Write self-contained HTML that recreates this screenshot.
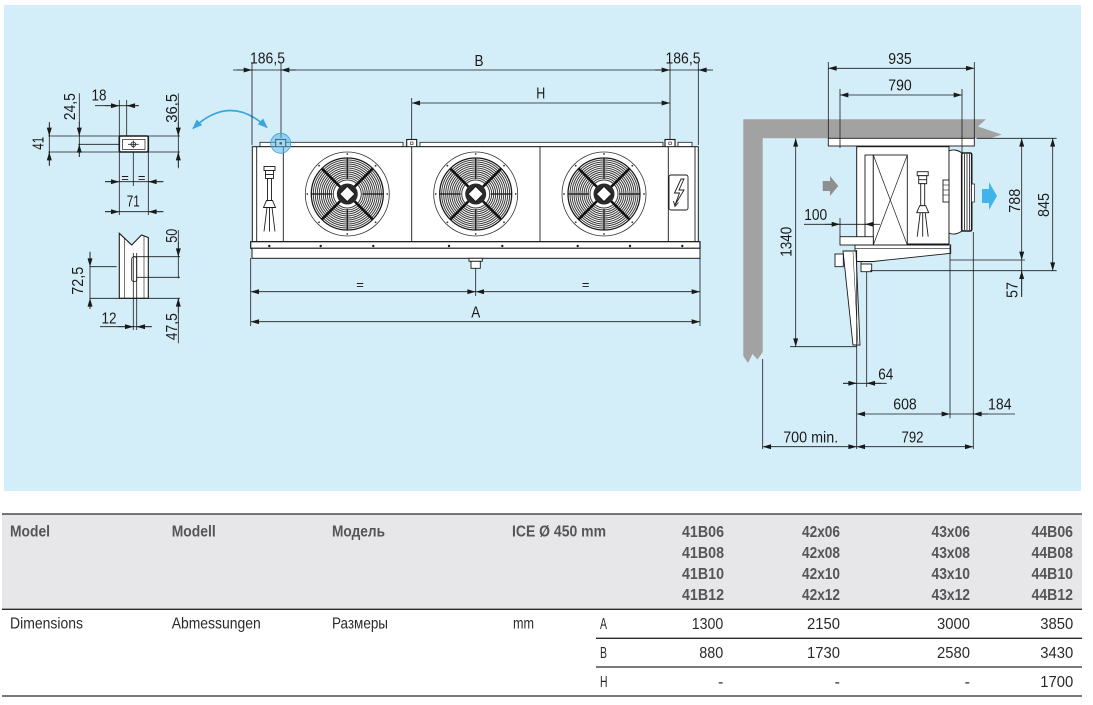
<!DOCTYPE html>
<html><head><meta charset="utf-8">
<style>
html,body{margin:0;padding:0;background:#fff;}
svg{display:block;}
text{font-family:"Liberation Sans","Noto Sans CJK SC",sans-serif;}
</style></head><body>
<svg width="1093" height="705" viewBox="0 0 1093 705" xmlns="http://www.w3.org/2000/svg" xmlns:xlink="http://www.w3.org/1999/xlink">
<defs>
<marker id="m" viewBox="0 0 10 6" refX="10" refY="3" markerWidth="9" markerHeight="5" markerUnits="userSpaceOnUse" orient="auto-start-reverse"><path d="M0,0 L10,3 L0,6 z" fill="#1a1a1a"/></marker>
<marker id="mb" viewBox="0 0 10 8" refX="9" refY="4" markerWidth="10" markerHeight="8" markerUnits="userSpaceOnUse" orient="auto-start-reverse"><path d="M0,0 L10,4 L0,8 z" fill="#3aa6dd"/></marker>
<g id="fan">
<circle cx="0" cy="0" r="42" fill="#fff" stroke="#333" stroke-width="0.8"/>
<circle cx="0" cy="-40" r="0.9" fill="#333"/><circle cx="0" cy="40" r="0.9" fill="#333"/>
<circle cx="-40" cy="0" r="0.9" fill="#333"/><circle cx="40" cy="0" r="0.9" fill="#333"/>
<circle cx="28.3" cy="28.3" r="0.9" fill="#333"/><circle cx="-28.3" cy="28.3" r="0.9" fill="#333"/>
<circle cx="28.3" cy="-28.3" r="0.9" fill="#333"/><circle cx="-28.3" cy="-28.3" r="0.9" fill="#333"/>
<circle cx="0" cy="0" r="36" fill="#fff" stroke="#1a1a1a" stroke-width="1.3"/>
<g fill="none" stroke="#3a3a3a" stroke-width="1">
<circle r="34"/><circle r="32"/><circle r="30"/><circle r="28"/><circle r="26"/><circle r="24"/><circle r="22"/><circle r="20"/><circle r="18"/><circle r="16"/><circle r="14"/>
</g>
<g stroke="#111" stroke-width="1.2">
<line x1="0" y1="-36" x2="0" y2="-15"/><line x1="0" y1="36" x2="0" y2="15"/>
<line x1="-36" y1="0" x2="-15" y2="0"/><line x1="36" y1="0" x2="15" y2="0"/>
</g>
<g stroke="#111" stroke-width="2.6">
<line x1="7" y1="7" x2="25.5" y2="25.5"/><line x1="-7" y1="7" x2="-25.5" y2="25.5"/>
<line x1="7" y1="-7" x2="25.5" y2="-25.5"/><line x1="-7" y1="-7" x2="-25.5" y2="-25.5"/>
</g>
<circle r="10.5" fill="#2a2a2a"/>
<path d="M0,-7.5 L7.5,0 L0,7.5 L-7.5,0 z" fill="#fff" stroke="#111" stroke-width="0.8"/>
</g>
<g id="valve" stroke="#1a1a1a" stroke-width="0.9" fill="#fff">
<rect x="-5.5" y="0" width="11" height="4"/>
<rect x="-4" y="4" width="8" height="8"/>
<line x1="-4" y1="8" x2="4" y2="8"/>
<rect x="-2" y="12" width="4" height="22"/>
<polygon points="-3,34 3,34 6,41 -6,41"/>
<line x1="-2.5" y1="41" x2="-5.5" y2="65"/>
<line x1="0" y1="41" x2="0" y2="65"/>
<line x1="2.5" y1="41" x2="5.5" y2="65"/>
</g>
</defs>

<rect x="4" y="5" width="1077" height="486" fill="#d4eef9"/>

<!-- ============ LEFT DETAIL ============ -->
<g stroke="#1a1a1a" stroke-width="0.8" fill="none">
<line x1="48.3" y1="136" x2="180" y2="136"/>
<line x1="48.3" y1="152" x2="180" y2="152"/>
<line x1="78.3" y1="144.3" x2="119.3" y2="144.3"/>
<line x1="119.3" y1="100" x2="119.3" y2="136"/>
<line x1="126.7" y1="100" x2="126.7" y2="136"/>
<line x1="119.3" y1="152" x2="119.3" y2="215"/>
<line x1="148.3" y1="152" x2="148.3" y2="215"/>
<line x1="133.3" y1="146" x2="133.3" y2="186"/>
<line x1="49.3" y1="123.3" x2="49.3" y2="165"/>
<line x1="49.3" y1="122" x2="49.3" y2="136" marker-end="url(#m)"/>
<line x1="49.3" y1="166" x2="49.3" y2="152" marker-end="url(#m)"/>
<line x1="79.3" y1="93.3" x2="79.3" y2="156.7"/>
<line x1="79.3" y1="122" x2="79.3" y2="136" marker-end="url(#m)"/>
<line x1="79.3" y1="157" x2="79.3" y2="144.3" marker-end="url(#m)"/>
<line x1="95" y1="105.7" x2="138.3" y2="105.7"/>
<line x1="105" y1="105.7" x2="119.3" y2="105.7" marker-end="url(#m)"/>
<line x1="139" y1="105.7" x2="126.7" y2="105.7" marker-end="url(#m)"/>
<line x1="178.3" y1="93.3" x2="178.3" y2="168.3"/>
<line x1="178.3" y1="122" x2="178.3" y2="136" marker-end="url(#m)"/>
<line x1="178.3" y1="167" x2="178.3" y2="152" marker-end="url(#m)"/>
<line x1="105" y1="181.7" x2="163.3" y2="181.7"/>
<line x1="105" y1="181.7" x2="119.3" y2="181.7" marker-end="url(#m)"/>
<line x1="163.3" y1="181.7" x2="148.3" y2="181.7" marker-end="url(#m)"/>
<line x1="105" y1="211.7" x2="163.3" y2="211.7"/>
<line x1="105" y1="211.7" x2="119.3" y2="211.7" marker-end="url(#m)"/>
<line x1="163.3" y1="211.7" x2="148.3" y2="211.7" marker-end="url(#m)"/>
</g>
<rect x="119.3" y="136" width="29" height="16" rx="1.5" fill="#fff" stroke="#1a1a1a" stroke-width="1.6"/>
<rect x="122.5" y="139.5" width="22.5" height="10" fill="#fff" stroke="#1a1a1a" stroke-width="0.7"/>
<circle cx="133.3" cy="144.3" r="2.3" fill="none" stroke="#1a1a1a" stroke-width="0.8"/>
<line x1="128" y1="144.3" x2="138.6" y2="144.3" stroke="#1a1a1a" stroke-width="0.8"/>
<line x1="133.3" y1="140.5" x2="133.3" y2="148.2" stroke="#1a1a1a" stroke-width="0.8"/>

<polygon points="119.3,233.3 131.7,245 141.5,235 148.3,237.5 148.3,298.3 119.3,298.3" fill="#fff" stroke="#1a1a1a" stroke-width="1.1"/>
<g stroke="#1a1a1a" stroke-width="0.6">
<line x1="124.3" y1="238" x2="124.3" y2="298.3"/>
<line x1="144" y1="236.5" x2="144" y2="298.3"/>
</g>
<rect x="131.7" y="256.7" width="5" height="25" rx="2.5" fill="#fff" stroke="#1a1a1a" stroke-width="0.9"/>
<g stroke="#1a1a1a" stroke-width="0.8" fill="none">
<line x1="133.3" y1="253" x2="133.3" y2="330"/>
<line x1="136.7" y1="253" x2="136.7" y2="330"/>
<line x1="133.3" y1="256.7" x2="180" y2="256.7"/>
<line x1="136.7" y1="277.3" x2="180" y2="277.3"/>
<line x1="90" y1="298.3" x2="180" y2="298.3"/>
<line x1="90" y1="266.7" x2="116.7" y2="266.7"/>
<line x1="90" y1="251.7" x2="90" y2="308.3"/>
<line x1="90" y1="252" x2="90" y2="266.7" marker-end="url(#m)"/>
<line x1="90" y1="309" x2="90" y2="298.3" marker-end="url(#m)"/>
<line x1="178.3" y1="230" x2="178.3" y2="278.3"/>
<line x1="178.3" y1="242" x2="178.3" y2="256.7" marker-end="url(#m)"/>
<line x1="178.3" y1="298.3" x2="178.3" y2="343.3"/>
<line x1="178.3" y1="313" x2="178.3" y2="298.3" marker-end="url(#m)"/>
<line x1="100" y1="326.7" x2="151.7" y2="326.7"/>
<line x1="118" y1="326.7" x2="133.3" y2="326.7" marker-end="url(#m)"/>
<line x1="151.7" y1="326.7" x2="136.7" y2="326.7" marker-end="url(#m)"/>
</g>
<g fill="#1a1a1a" font-size="16">
<text transform="translate(43.3,143.3) rotate(-90)" text-anchor="middle" textLength="13" lengthAdjust="spacingAndGlyphs">41</text>
<text transform="translate(75,106.7) rotate(-90)" text-anchor="middle" textLength="27" lengthAdjust="spacingAndGlyphs">24,5</text>
<text x="99" y="100.7" text-anchor="middle" textLength="15" lengthAdjust="spacingAndGlyphs">18</text>
<text transform="translate(177,108.3) rotate(-90)" text-anchor="middle" textLength="29" lengthAdjust="spacingAndGlyphs">36,5</text>
<text x="125" y="182" text-anchor="middle" font-size="13">=</text>
<text x="141.7" y="182" text-anchor="middle" font-size="13">=</text>
<text x="133.3" y="206.7" text-anchor="middle" textLength="13" lengthAdjust="spacingAndGlyphs">71</text>
<text transform="translate(177,235.7) rotate(-90)" text-anchor="middle" textLength="14" lengthAdjust="spacingAndGlyphs">50</text>
<text transform="translate(83,280.8) rotate(-90)" text-anchor="middle" textLength="28" lengthAdjust="spacingAndGlyphs">72,5</text>
<text transform="translate(177,326.7) rotate(-90)" text-anchor="middle" textLength="27" lengthAdjust="spacingAndGlyphs">47,5</text>
<text x="109" y="323.3" text-anchor="middle" textLength="15" lengthAdjust="spacingAndGlyphs">12</text>
</g>

<path d="M193,128.5 Q230,93 267,127.5" fill="none" stroke="#3aa6dd" stroke-width="1.6" marker-start="url(#mb)" marker-end="url(#mb)"/>

<!-- ============ MAIN UNIT ============ -->
<g stroke="#1a1a1a" stroke-width="0.8" fill="none">
<line x1="252" y1="63" x2="252" y2="145"/>
<line x1="281" y1="63" x2="281" y2="138"/>
<line x1="670" y1="63" x2="670" y2="140"/>
<line x1="698.3" y1="63" x2="698.3" y2="145"/>
<line x1="411.7" y1="98" x2="411.7" y2="140"/>
<line x1="250.7" y1="258" x2="250.7" y2="326"/>
<line x1="700" y1="258" x2="700" y2="326"/>
<line x1="475.7" y1="268" x2="475.7" y2="296"/>
<line x1="233" y1="70" x2="710" y2="70"/>
<line x1="237" y1="70" x2="252" y2="70" marker-end="url(#m)"/>
<line x1="296" y1="70" x2="281" y2="70" marker-end="url(#m)"/>
<line x1="655" y1="70" x2="670" y2="70" marker-end="url(#m)"/>
<line x1="713" y1="70" x2="698.3" y2="70" marker-end="url(#m)"/>
<line x1="411.7" y1="103" x2="670" y2="103" marker-start="url(#m)" marker-end="url(#m)"/>
<line x1="250.7" y1="291.7" x2="475.7" y2="291.7" marker-start="url(#m)" marker-end="url(#m)"/>
<line x1="475.7" y1="291.7" x2="700" y2="291.7" marker-start="url(#m)" marker-end="url(#m)"/>
<line x1="250.7" y1="321.7" x2="700" y2="321.7" marker-start="url(#m)" marker-end="url(#m)"/>
</g>
<g fill="#fff" stroke="#1a1a1a" stroke-width="0.8">
<rect x="260" y="142.3" width="143" height="4.4"/>
<rect x="420" y="142.3" width="243" height="4.4"/>
<rect x="678" y="142.3" width="14" height="4.4"/>
<rect x="275.7" y="139.5" width="10" height="7.5" stroke-width="1.1"/>
<rect x="406.7" y="139.5" width="10" height="7.5" stroke-width="1.1"/>
<rect x="665" y="139.5" width="10" height="7.5" stroke-width="1.1"/>
</g>
<rect x="279.5" y="142" width="2.5" height="2.5" fill="#1a1a1a"/>
<rect x="410.5" y="142" width="2.5" height="2.5" fill="none" stroke="#1a1a1a" stroke-width="0.6"/>
<rect x="668.8" y="142" width="2.5" height="2.5" fill="none" stroke="#1a1a1a" stroke-width="0.6"/>
<rect x="252.3" y="146.7" width="446" height="95" fill="#fff" stroke="#1a1a1a" stroke-width="1"/>
<g stroke="#1a1a1a" stroke-width="0.9">
<line x1="256.7" y1="146.7" x2="256.7" y2="241.7"/>
<line x1="283.3" y1="146.7" x2="283.3" y2="241.7"/>
<line x1="411.7" y1="146.7" x2="411.7" y2="241.7"/>
<line x1="540" y1="146.7" x2="540" y2="241.7"/>
<line x1="668.3" y1="146.7" x2="668.3" y2="241.7"/>
<line x1="695" y1="146.7" x2="695" y2="241.7"/>
</g>
<use xlink:href="#fan" href="#fan" x="347.3" y="194"/>
<use xlink:href="#fan" href="#fan" x="475.7" y="194"/>
<use xlink:href="#fan" href="#fan" x="604" y="194"/>
<use xlink:href="#valve" href="#valve" x="269.5" y="166.5"/>
<rect x="669" y="175" width="19" height="35" rx="2" fill="#fff" stroke="#1a1a1a" stroke-width="0.9"/>
<path d="M681,179 L674.5,193 L679.5,193 L675,205 L684,190 L679,190 L684,179 z" fill="none" stroke="#1a1a1a" stroke-width="0.9"/>
<path d="M673.5,201 L675,206.5 L678.5,202.5" fill="none" stroke="#1a1a1a" stroke-width="0.9"/>
<circle cx="280.7" cy="143.3" r="10" fill="#58b6e6" fill-opacity="0.55" stroke="#3aa0d8" stroke-width="0.8"/>
<rect x="250.7" y="241.7" width="449.3" height="6.6" fill="#fff" stroke="#1a1a1a" stroke-width="1.2"/>
<rect x="252" y="248.3" width="448" height="10" fill="#fff" stroke="#1a1a1a" stroke-width="1"/>
<g fill="#1a1a1a">
<circle cx="269.3" cy="246" r="1.2"/><circle cx="320.7" cy="246" r="1.2"/><circle cx="373.3" cy="246" r="1.2"/>
<circle cx="449" cy="246" r="1.2"/><circle cx="502.3" cy="246" r="1.2"/><circle cx="577.7" cy="246" r="1.2"/>
<circle cx="630" cy="246" r="1.2"/><circle cx="682.3" cy="246" r="1.2"/>
</g>
<rect x="469" y="258.3" width="13.3" height="3" fill="#fff" stroke="#1a1a1a" stroke-width="0.9"/>
<rect x="471" y="261.3" width="9.3" height="7" fill="#fff" stroke="#1a1a1a" stroke-width="0.9"/>
<g fill="#1a1a1a" font-size="16">
<text x="267.5" y="63.3" text-anchor="middle" textLength="35" lengthAdjust="spacingAndGlyphs">186,5</text>
<text x="479" y="66" text-anchor="middle" textLength="9" lengthAdjust="spacingAndGlyphs">B</text>
<text x="683" y="63.3" text-anchor="middle" textLength="35" lengthAdjust="spacingAndGlyphs">186,5</text>
<text x="540.7" y="98.3" text-anchor="middle" textLength="9" lengthAdjust="spacingAndGlyphs">H</text>
<text x="360" y="289" text-anchor="middle" font-size="13">=</text>
<text x="585.7" y="289" text-anchor="middle" font-size="13">=</text>
<text x="475.7" y="317.7" text-anchor="middle" textLength="9" lengthAdjust="spacingAndGlyphs">A</text>
</g>

<!-- ============ SIDE VIEW ============ -->
<polygon points="743.3,119.3 986,119.3 978,126.5 1001.7,134.5 991,138.3 762.7,138.3 762.7,352 757.5,359.5 752.5,354 748,363 743.3,356" fill="#a2a2a2"/>
<rect x="828.3" y="138.3" width="146" height="7.7" fill="#fff" stroke="#1a1a1a" stroke-width="0.9"/>
<g stroke="#1a1a1a" stroke-width="0.8" fill="none">
<line x1="828.3" y1="62" x2="828.3" y2="138.3"/>
<line x1="974.3" y1="62" x2="974.3" y2="138.3"/>
<line x1="840" y1="89" x2="840" y2="148"/>
<line x1="962" y1="89" x2="962" y2="155"/>
<line x1="828.3" y1="68.3" x2="974.3" y2="68.3" marker-start="url(#m)" marker-end="url(#m)"/>
<line x1="840" y1="95" x2="962" y2="95" marker-start="url(#m)" marker-end="url(#m)"/>
</g>
<rect x="856.7" y="146.7" width="92.3" height="97.3" fill="#fff" stroke="#1a1a1a" stroke-width="1"/>
<rect x="865" y="155" width="8.3" height="82" fill="#fff" stroke="#1a1a1a" stroke-width="0.9"/>
<rect x="873.3" y="155" width="34" height="90" fill="#fff" stroke="#1a1a1a" stroke-width="0.9"/>
<line x1="873.3" y1="155" x2="907.3" y2="245" stroke="#1a1a1a" stroke-width="0.7"/>
<line x1="907.3" y1="155" x2="873.3" y2="245" stroke="#1a1a1a" stroke-width="0.7"/>
<rect x="840" y="236.7" width="33.3" height="8.3" fill="#fff" stroke="#1a1a1a" stroke-width="0.9"/>
<use xlink:href="#valve" href="#valve" x="922.7" y="171.7"/>
<path d="M949,151 C953,149 958,150 962,153 L962,231 C958,234 953,235 949,233 z" fill="#fff" stroke="#1a1a1a" stroke-width="0.9"/>
<rect x="943" y="180" width="6" height="22" fill="#fff" stroke="#1a1a1a" stroke-width="0.9"/>
<g stroke="#1a1a1a" stroke-width="0.6"><line x1="943" y1="185" x2="949" y2="185"/><line x1="943" y1="190" x2="949" y2="190"/><line x1="943" y1="195" x2="949" y2="195"/></g>
<rect x="961.7" y="153" width="10" height="78" rx="1.5" fill="#fff" stroke="#1a1a1a" stroke-width="1.6"/>
<g stroke="#1a1a1a" stroke-width="0.8"><line x1="964.5" y1="154" x2="964.5" y2="230"/><line x1="967" y1="154" x2="967" y2="230"/><line x1="969.5" y1="154" x2="969.5" y2="230"/></g>
<rect x="971.5" y="184" width="3" height="18" fill="#fff" stroke="#1a1a1a" stroke-width="0.7"/>
<polygon points="855,245 950.7,245 950.7,253.3 873.3,261.5 855,261.5" fill="#fff" stroke="#1a1a1a" stroke-width="0.9"/>
<line x1="855" y1="248.3" x2="950.7" y2="248.3" stroke="#1a1a1a" stroke-width="0.6"/>
<rect x="861" y="264" width="10.7" height="7.7" fill="#fff" stroke="#1a1a1a" stroke-width="0.9"/>
<line x1="861" y1="261.5" x2="861" y2="264" stroke="#1a1a1a" stroke-width="0.8"/>
<polygon points="843,251 856,251 860,345 853,345" fill="#fff" stroke="#1a1a1a" stroke-width="0.9"/>
<line x1="853" y1="252" x2="858" y2="344" stroke="#1a1a1a" stroke-width="0.5"/>
<rect x="835" y="254" width="8.3" height="12.7" fill="#fff" stroke="#1a1a1a" stroke-width="0.9"/>
<polygon points="822.7,181 830,181 830,176 838.3,186 830,196 830,191 822.7,191" fill="#8f8f8f"/>
<polygon points="982,189 989,189 989,182 997,196 989,210 989,203 982,203" fill="#3fb3ea"/>
<g stroke="#1a1a1a" stroke-width="0.8" fill="none">
<line x1="795.7" y1="138.3" x2="795.7" y2="346.7" marker-start="url(#m)" marker-end="url(#m)"/>
<line x1="790" y1="346.7" x2="856.7" y2="346.7"/>
<line x1="804" y1="224.3" x2="875" y2="224.3"/>
<line x1="825" y1="224.3" x2="840" y2="224.3" marker-end="url(#m)"/>
<line x1="880" y1="224.3" x2="865" y2="224.3" marker-end="url(#m)"/>
<line x1="840" y1="218" x2="840" y2="236.7"/>
<line x1="976.7" y1="138.3" x2="1056.7" y2="138.3"/>
<line x1="950" y1="260" x2="1025" y2="260"/>
<line x1="870" y1="270.7" x2="1056.7" y2="270.7"/>
<line x1="1021.7" y1="138.3" x2="1021.7" y2="260" marker-start="url(#m)" marker-end="url(#m)"/>
<line x1="1021.7" y1="260" x2="1021.7" y2="296.7"/>
<line x1="1021.7" y1="297" x2="1021.7" y2="270.7" marker-end="url(#m)"/>
<line x1="1052.7" y1="138.3" x2="1052.7" y2="270.7" marker-start="url(#m)" marker-end="url(#m)"/>
<line x1="856.7" y1="250" x2="856.7" y2="449"/>
<line x1="866.7" y1="272" x2="866.7" y2="387"/>
<line x1="950" y1="246" x2="950" y2="418.3"/>
<line x1="973.3" y1="232" x2="973.3" y2="449"/>
<line x1="762.7" y1="359" x2="762.7" y2="449"/>
<line x1="843" y1="383.3" x2="886.7" y2="383.3"/>
<line x1="843" y1="383.3" x2="856.7" y2="383.3" marker-end="url(#m)"/>
<line x1="881" y1="383.3" x2="866.7" y2="383.3" marker-end="url(#m)"/>
<line x1="856.7" y1="414" x2="950" y2="414" marker-start="url(#m)" marker-end="url(#m)"/>
<line x1="950" y1="414" x2="1015" y2="414"/>
<line x1="988" y1="414" x2="973.3" y2="414" marker-end="url(#m)"/>
<line x1="762.7" y1="446.7" x2="856.7" y2="446.7" marker-start="url(#m)" marker-end="url(#m)"/>
<line x1="856.7" y1="446.7" x2="973.3" y2="446.7" marker-start="url(#m)" marker-end="url(#m)"/>
</g>
<g fill="#1a1a1a" font-size="16">
<text x="900" y="64" text-anchor="middle" textLength="23.5" lengthAdjust="spacingAndGlyphs">935</text>
<text x="900" y="90.7" text-anchor="middle" textLength="23.5" lengthAdjust="spacingAndGlyphs">790</text>
<text transform="translate(791.5,241.7) rotate(-90)" text-anchor="middle" textLength="30" lengthAdjust="spacingAndGlyphs">1340</text>
<text x="815.7" y="220" text-anchor="middle" textLength="23" lengthAdjust="spacingAndGlyphs">100</text>
<text transform="translate(1020,200.8) rotate(-90)" text-anchor="middle" textLength="24" lengthAdjust="spacingAndGlyphs">788</text>
<text transform="translate(1049,205) rotate(-90)" text-anchor="middle" textLength="24" lengthAdjust="spacingAndGlyphs">845</text>
<text transform="translate(1017.3,290) rotate(-90)" text-anchor="middle" textLength="16" lengthAdjust="spacingAndGlyphs">57</text>
<text x="885.7" y="379.3" text-anchor="middle" textLength="15" lengthAdjust="spacingAndGlyphs">64</text>
<text x="905" y="409.3" text-anchor="middle" textLength="23.5" lengthAdjust="spacingAndGlyphs">608</text>
<text x="999.8" y="409.3" text-anchor="middle" textLength="23.5" lengthAdjust="spacingAndGlyphs">184</text>
<text x="810.7" y="442.7" text-anchor="middle" textLength="55" lengthAdjust="spacingAndGlyphs">700 min.</text>
<text x="912.5" y="442.7" text-anchor="middle" textLength="22" lengthAdjust="spacingAndGlyphs">792</text>
</g>

<!-- ============ TABLE ============ -->
<rect x="2" y="514" width="1080" height="95.3" fill="#e7e7e9"/>
<g stroke="#2a2a2a" stroke-width="1.3">
<line x1="2" y1="514" x2="1082" y2="514"/>
<line x1="2" y1="609.3" x2="1082" y2="609.3"/>
<line x1="596" y1="638.3" x2="1082" y2="638.3"/>
<line x1="596" y1="667" x2="1082" y2="667"/>
<line x1="2" y1="696" x2="1082" y2="696"/>
</g>
<g fill="#555" font-size="15.5" font-weight="bold">
<text x="10" y="536.7" textLength="40" lengthAdjust="spacingAndGlyphs">Model</text>
<text x="171.7" y="536.7" textLength="44" lengthAdjust="spacingAndGlyphs">Modell</text>
<text x="332" y="536.7" textLength="53" lengthAdjust="spacingAndGlyphs">Модель</text>
<text x="512" y="536.7" textLength="94" lengthAdjust="spacingAndGlyphs">ICE Ø 450 mm</text>
<g text-anchor="end">
<text x="724" y="537" textLength="42" lengthAdjust="spacingAndGlyphs">41B06</text>
<text x="724" y="558" textLength="42" lengthAdjust="spacingAndGlyphs">41B08</text>
<text x="724" y="579" textLength="42" lengthAdjust="spacingAndGlyphs">41B10</text>
<text x="724" y="600" textLength="42" lengthAdjust="spacingAndGlyphs">41B12</text>
<text x="840" y="537" textLength="38" lengthAdjust="spacingAndGlyphs">42x06</text>
<text x="840" y="558" textLength="38" lengthAdjust="spacingAndGlyphs">42x08</text>
<text x="840" y="579" textLength="38" lengthAdjust="spacingAndGlyphs">42x10</text>
<text x="840" y="600" textLength="38" lengthAdjust="spacingAndGlyphs">42x12</text>
<text x="970" y="537" textLength="38.5" lengthAdjust="spacingAndGlyphs">43x06</text>
<text x="970" y="558" textLength="38.5" lengthAdjust="spacingAndGlyphs">43x08</text>
<text x="970" y="579" textLength="38.5" lengthAdjust="spacingAndGlyphs">43x10</text>
<text x="970" y="600" textLength="38.5" lengthAdjust="spacingAndGlyphs">43x12</text>
<text x="1073" y="537" textLength="41.5" lengthAdjust="spacingAndGlyphs">44B06</text>
<text x="1073" y="558" textLength="41.5" lengthAdjust="spacingAndGlyphs">44B08</text>
<text x="1073" y="579" textLength="41.5" lengthAdjust="spacingAndGlyphs">44B10</text>
<text x="1073" y="600" textLength="41.5" lengthAdjust="spacingAndGlyphs">44B12</text>
</g>
</g>
<g fill="#2a2a2a" font-size="16">
<text x="10" y="628.5" textLength="73" lengthAdjust="spacingAndGlyphs">Dimensions</text>
<text x="171.7" y="628.5" textLength="89" lengthAdjust="spacingAndGlyphs">Abmessungen</text>
<text x="332" y="628.5" textLength="56" lengthAdjust="spacingAndGlyphs">Размеры</text>
<text x="513" y="628.5" textLength="21" lengthAdjust="spacingAndGlyphs">mm</text>
<text x="600" y="629" textLength="7" lengthAdjust="spacingAndGlyphs">A</text>
<text x="600" y="658" textLength="7" lengthAdjust="spacingAndGlyphs">B</text>
<text x="600" y="687" textLength="7.5" lengthAdjust="spacingAndGlyphs">H</text>
<g text-anchor="end">
<text x="723.3" y="629" textLength="31.6" lengthAdjust="spacingAndGlyphs">1300</text>
<text x="840" y="629" textLength="33" lengthAdjust="spacingAndGlyphs">2150</text>
<text x="970" y="629" textLength="33" lengthAdjust="spacingAndGlyphs">3000</text>
<text x="1073.3" y="629" textLength="33" lengthAdjust="spacingAndGlyphs">3850</text>
<text x="723.3" y="658" textLength="24" lengthAdjust="spacingAndGlyphs">880</text>
<text x="840" y="658" textLength="33" lengthAdjust="spacingAndGlyphs">1730</text>
<text x="970" y="658" textLength="33" lengthAdjust="spacingAndGlyphs">2580</text>
<text x="1073.3" y="658" textLength="33" lengthAdjust="spacingAndGlyphs">3430</text>
<text x="723.3" y="687">-</text>
<text x="840" y="687">-</text>
<text x="970" y="687">-</text>
<text x="1073.3" y="687" textLength="33" lengthAdjust="spacingAndGlyphs">1700</text>
</g>
</g>
</svg>
</body></html>
